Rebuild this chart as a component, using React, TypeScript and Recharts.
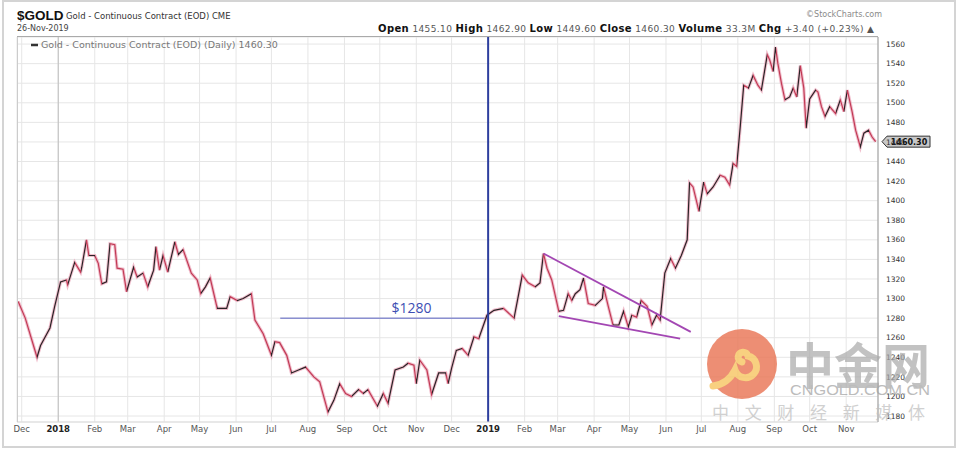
import React from 'react';
import { LineChart, Line, XAxis, YAxis, CartesianGrid, ReferenceLine, ReferenceDot } from 'recharts';

// trading day offsets (calendar days from 2018-01-01)
const days = [-34,-28,-18,-15,-7,-3,2,7,8,14,19,20,24,26,31,34,37,41,44,48,50,55,58,64,67,72,76,81,83,86,89,93,99,102,106,113,118,121,125,129,135,143,146,152,157,164,167,174,181,184,188,194,198,204,210,217,222,227,229,234,239,244,249,255,259,263,271,276,280,286,293,297,302,304,307,313,317,323,329,331,334,338,343,348,353,357,364,370,378,387,391,394,399,405,409,412,415,419,425,429,433,436,439,443,446,450,456,462,463,467,471,476,480,484,487,491,495,500,504,508,511,515,520,524,529,534,536,539,544,548,551,556,562,566,570,573,576,579,582,586,590,594,597,602,604,607,609,611,614,617,621,624,627,630,633,635,638,643,645,648,651,655,660,664,667,670,674,677,681,684,688,691,694];
const prices = [1297,1280,1240,1252,1270,1292,1317,1319,1314,1337,1327,1332,1360,1344,1344,1336,1315,1317,1356,1355,1331,1330,1307,1332,1322,1326,1312,1329,1353,1329,1344,1327,1358,1345,1350,1326,1319,1305,1312,1321,1290,1290,1302,1298,1300,1305,1278,1264,1242,1256,1255,1242,1224,1227,1230,1220,1215,1193,1184,1196,1213,1203,1200,1207,1203,1207,1190,1203,1193,1227,1230,1234,1232,1213,1237,1227,1202,1224,1224,1213,1229,1247,1249,1242,1261,1259,1283,1288,1290,1280,1305,1324,1316,1312,1316,1346,1331,1319,1287,1288,1305,1298,1305,1309,1321,1295,1293,1300,1312,1292,1273,1273,1287,1271,1283,1281,1298,1292,1273,1283,1278,1326,1341,1331,1344,1360,1418,1414,1389,1419,1407,1414,1426,1424,1416,1438,1435,1475,1518,1515,1528,1518,1513,1549,1544,1532,1557,1540,1520,1503,1506,1515,1506,1538,1515,1474,1504,1513,1511,1496,1486,1496,1489,1503,1491,1513,1491,1472,1455,1469,1472,1465,1460.3];

const monthTicks = [-31,0,31,59,90,120,151,181,212,243,273,304,334,365,396,424,455,485,516,546,577,608,638,669];
const monthLabels = ['Dec','2018','Feb','Mar','Apr','May','Jun','Jul','Aug','Sep','Oct','Nov','Dec','2019','Feb','Mar','Apr','May','Jun','Jul','Aug','Sep','Oct','Nov'];
const priceTicks = [1180,1200,1220,1240,1260,1280,1300,1320,1340,1360,1380,1400,1420,1440,1460,1480,1500,1520,1540,1560];

const lastClose = 1460.3;
const supportLevel = 1280;
const yearLine2019 = 365;
const wedgeUpper = [{ x: 412, y: 1346 }, { x: 537, y: 1266 }];
const wedgeLower = [{ x: 425, y: 1282 }, { x: 528, y: 1259 }];

const data = days.map((d, i) => ({ d, p: prices[i] }));

const UP = '#2a2326';
const DOWN = '#c23a55';
// horizontal gradient with hard stops: each segment coloured by direction
const d0 = days[0];
const dSpan = days[days.length - 1] - d0;
const gradStops: { off: number; color: string }[] = [];
for (let i = 0; i < days.length - 1; i++) {
  const c = prices[i + 1] >= prices[i] ? UP : DOWN;
  gradStops.push({ off: (days[i] - d0) / dSpan, color: c });
  gradStops.push({ off: (days[i + 1] - d0) / dSpan, color: c });
}

const FONT = 'DejaVu Sans, Verdana, sans-serif';

const XTick = (props: any) => {
  const { x, y, payload } = props;
  const idx = monthTicks.indexOf(payload.value);
  const label = monthLabels[idx] ?? '';
  const isYear = /^\d{4}$/.test(label);
  return (
    <text x={x} y={y} dy="0.71em" textAnchor="middle" fontSize={8.5} fontFamily={FONT}
      fontWeight={isYear ? 'bold' : 'normal'} fill={isYear ? '#222' : '#555'}>{label}</text>
  );
};

const PriceBox = (props: any) => {
  const { cx, cy } = props;
  if (cx == null || cy == null) return null;
  const x0 = cx + 4;
  return (
    <g>
      <polygon points={`${x0},${cy} ${x0 + 5},${cy - 5.5} ${x0 + 48},${cy - 5.5} ${x0 + 48},${cy + 5.5} ${x0 + 5},${cy + 5.5}`}
        fill="#c8c8c8" stroke="#333" strokeWidth={1} />
      <text x={x0 + 27} y={cy + 3} textAnchor="middle" fontSize={8} fontWeight="bold" fontFamily={FONT} fill="#111">1460.30</text>
    </g>
  );
};

export default function App() {
  return (
    <div style={{ position: 'absolute', left: 0, top: 0, width: 960, height: 450, background: '#fff', overflow: 'hidden' }}>
      <LineChart width={960} height={450} data={data} margin={{ top: 37, right: 22, bottom: 8, left: 17 }}>
        <defs>
          <linearGradient id="updown" x1="0" y1="0" x2="1" y2="0">
            {gradStops.map((s, i) => (
              <stop key={i} offset={s.off} stopColor={s.color} />
            ))}
          </linearGradient>
        </defs>
        <CartesianGrid stroke="#e6e6e6" strokeWidth={1} />
        <XAxis dataKey="d" type="number" domain={[-35, 696]} ticks={monthTicks} interval={0} height={20}
          tick={<XTick />} tickLine={false} tickSize={3} tickMargin={1} axisLine={{ stroke: '#dddddd' }} allowDataOverflow />
        <YAxis orientation="right" domain={[1173.9, 1567.2]} ticks={priceTicks} interval={0} allowDataOverflow
          tick={{ fontSize: 7.5, fill: '#333', fontFamily: FONT }} tickLine={false} axisLine={{ stroke: '#999' }} width={60} />
        <ReferenceLine x={0} stroke="#bdbdbd" strokeWidth={1} />
        <ReferenceLine segment={[{ x: 188.5, y: supportLevel }, { x: yearLine2019, y: supportLevel }]} stroke="#8a8fd0" strokeWidth={1.5} />
        <ReferenceDot x={300} y={supportLevel} r={0} fill="none" stroke="none"
          label={{ value: '$1280', position: 'top', offset: 5, fill: '#3d4fb3', fontSize: 14, fontFamily: 'Open Sans, sans-serif' }} />
        <Line dataKey="p" stroke="#eaa2b6" strokeWidth={3.2} strokeOpacity={0.7} dot={false} isAnimationActive={false} type="linear" />
        <Line dataKey="p" stroke="url(#updown)" strokeWidth={1.2} dot={false} isAnimationActive={false} type="linear" />
        <ReferenceLine x={yearLine2019} stroke="#2e3f9e" strokeWidth={2} />
        <ReferenceLine segment={wedgeUpper} stroke="#a347b3" strokeWidth={1.8} />
        <ReferenceLine segment={wedgeLower} stroke="#a347b3" strokeWidth={1.8} />
        <ReferenceDot x={696} y={lastClose} r={0} ifOverflow="visible" shape={<PriceBox />} />
      </LineChart>
      <svg width={960} height={450} style={{ position: 'absolute', left: 0, top: 0, pointerEvents: 'none' }}>
        {/* outer frame */}
        <rect x={3} y={1} width={952} height={446} fill="none" stroke="#d4d4d4" strokeWidth={2} />
        {/* plot frame lines */}
        <line x1={17} y1={36.5} x2={878} y2={36.5} stroke="#aaaaaa" strokeWidth={1} />
        <line x1={17.5} y1={37} x2={17.5} y2={422} stroke="#cccccc" strokeWidth={1} />
        {/* header */}
        <text x={17} y={20} fontFamily="Liberation Sans, Arial, sans-serif" fontWeight="bold" fontSize={13.5} fill="#111">$GOLD</text>
        <text x={66} y={19} fontFamily={FONT} fontSize={8.5} fill="#333">Gold - Continuous Contract (EOD) CME</text>
        <text x={17} y={31} fontFamily={FONT} fontSize={8} fill="#444">26-Nov-2019</text>
        <text x={882} y={17} textAnchor="end" fontFamily={FONT} fontSize={8} fill="#8a8a8a">©StockCharts.com</text>
        <text x={378} y={32} fontFamily={FONT} fontSize={9} fill="#555" textLength={496} lengthAdjust="spacing">
          <tspan fontWeight="bold" fill="#111" fontSize={10}>Open</tspan> 1455.10  <tspan fontWeight="bold" fill="#111" fontSize={10}>High</tspan> 1462.90  <tspan fontWeight="bold" fill="#111" fontSize={10}>Low</tspan> 1449.60  <tspan fontWeight="bold" fill="#111" fontSize={10}>Close</tspan> 1460.30  <tspan fontWeight="bold" fill="#111" fontSize={10}>Volume</tspan> 33.3M  <tspan fontWeight="bold" fill="#111" fontSize={10}>Chg</tspan> +3.40 (+0.23%) ▲
        </text>
        {/* legend */}
        <line x1={31} y1={45} x2={38} y2={45} stroke="#333" strokeWidth={2.5} />
        <text x={41} y={48} fontFamily={FONT} fontSize={9.5} fill="#777">Gold - Continuous Contract (EOD) (Daily) 1460.30</text>
        {/* watermark */}
        <g opacity={0.85}>
          <circle cx={742} cy={364} r={35} fill="#ea7b5c" />
          <path d="M 742 362 A 5 5 0 1 1 748 356 A 11 11 0 1 1 735 370 Q 728 384 713 386" fill="none" stroke="#f7c86a" strokeWidth={7} strokeLinecap="round" />
        </g>
        <g opacity={0.7}>
          <text x={786} y={384} fontFamily="Noto Sans CJK SC, sans-serif" fontWeight="bold" fontSize={49} fill="#a9a9a9" textLength={144} lengthAdjust="spacingAndGlyphs">中金网</text>
          <text x={790} y={395} fontFamily="Liberation Sans, Arial, sans-serif" fontSize={15} fill="#a0a0a0" textLength={140} lengthAdjust="spacingAndGlyphs">CNGOLD.COM.CN</text>
          <text x={712} y={419} fontFamily="Noto Sans CJK SC, sans-serif" fontSize={17} fill="#bdbdbd" textLength={213} lengthAdjust="spacing">中文财经新媒体</text>
        </g>
      </svg>
    </div>
  );
}
